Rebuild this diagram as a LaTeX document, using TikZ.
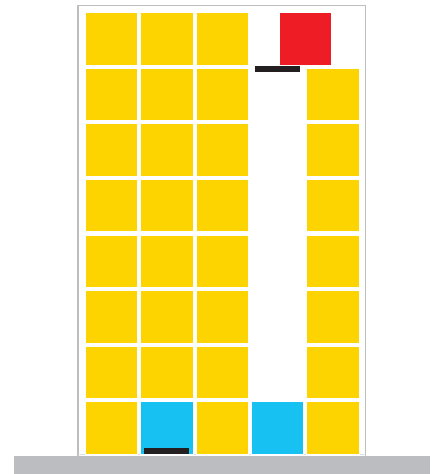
\documentclass[tikz,border=0pt]{standalone}
\usetikzlibrary{positioning}
\definecolor{cyel}{HTML}{FDD300}
\definecolor{cred}{HTML}{EE1D25}
\definecolor{cblue}{HTML}{17C1F2}
\definecolor{cblk}{HTML}{231F20}
\definecolor{cframe}{HTML}{BDBDBF}
\definecolor{cground}{HTML}{BCBDC1}
\tikzset{
  cell/.style={fill=#1, draw=white, line width=0.4pt, minimum width=52.4pt, minimum height=52.4pt, inner sep=0pt, outer sep=0pt, anchor=north west},
  bar/.style={fill=cblk, draw=none, minimum width=45pt, minimum height=5.8pt, inner sep=0pt, outer sep=0pt, anchor=north west},
}
\begin{document}
\begin{tikzpicture}[x=1pt,y=-1pt]
\useasboundingbox (0,0) rectangle (439,474);
% frame
\draw[cframe, line width=1.6pt] (78,456) -- (78,5.3) -- (365.5,5.3) -- (365.5,456);
\draw[cframe!50, line width=0.8pt] (78,454.6) -- (365.5,454.6);
% grid
\foreach \r in {1,...,8}{
  \foreach \c in {1,2,3}{
    \pgfmathsetmacro{\xx}{85+55.4*(\c-1)}
    \pgfmathsetmacro{\yy}{12.3+55.6*(\r-1)}
    \node[cell=cyel] (c\r-\c) at (\xx,\yy) {};
  }
}
\foreach \r in {2,...,8}{
  \pgfmathsetmacro{\yy}{12.3+55.6*(\r-1)}
  \node[cell=cyel] (c\r-5) at (306.6,\yy) {};
}
% blue cells
\node[cell=cblue] (b2) at (140.4,401.5) {};
\node[cell=cblue] (b4) at (251.2,401.5) {};
% red square
\node[cell=cred] (red) at (278.8,12.3) {};
% black bars
\node[bar] (bartop) at (255,66) {};
\node[bar] (barbot) at (144,448) {};
% ground
\fill[cground] (14,456) rectangle (430,474);
\end{tikzpicture}
\end{document}
